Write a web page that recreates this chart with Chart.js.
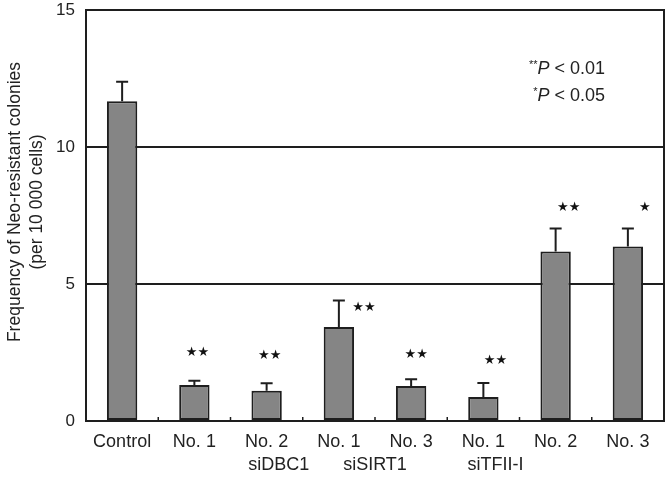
<!DOCTYPE html>
<html><head><meta charset="utf-8">
<script src="https://cdn.jsdelivr.net/npm/chart.js@4"></script>
<style>html,body{margin:0;padding:0;background:#fff}#wrap{width:668px;height:483px}</style>
</head><body><div id="wrap"><canvas id="c" width="668" height="483"></canvas></div>
<script>
const categories = ["Control","No. 1","No. 2","No. 1","No. 3","No. 1","No. 2","No. 3"];
const groupLabels = ["siDBC1","siSIRT1","siTFII-I"];
const groupCenters = [1.5, 3.5, 6];
const means = [11.67, 1.31, 1.10, 3.43, 1.28, 0.88, 6.19, 6.37];
const errTops = [12.38, 1.47, 1.38, 4.40, 1.52, 1.39, 7.03, 7.03];
const stars = ["", "★★", "★★", "★★", "★★", "★★", "★★", "★"];
const starY = [0, 2.5, 2.4, 4.15, 2.44, 2.19, 7.8, 7.8];
const yTicks = [0, 5, 10, 15];
const yTitle = ["Frequency of Neo-resistant colonies", "(per 10 000 cells)"];
const legendLines = [["**", "P", " < 0.01"], ["*", "P", " < 0.05"]];

const starDx = [0, 3, 3, 25, 5, 12, 13, 17];
const FONT = "'Liberation Sans', Arial, sans-serif";
const INK = "#1e1e1e";

const decor = {
  id: "decor",
  beforeDatasetsDraw(chart) {
    const ctx = chart.ctx, a = chart.chartArea, x = chart.scales.x;
    ctx.save();
    ctx.strokeStyle = INK; ctx.lineWidth = 2;
    ctx.strokeRect(a.left, a.top, a.right - a.left, a.bottom - a.top);
    ctx.lineWidth = 1.5;
    for (let i = 0; i < categories.length - 1; i++) {
      const px = (x.getPixelForValue(i) + x.getPixelForValue(i + 1)) / 2;
      ctx.beginPath(); ctx.moveTo(px, a.bottom); ctx.lineTo(px, a.bottom - 4); ctx.stroke();
    }
    ctx.restore();
  },
  afterDatasetsDraw(chart) {
    const ctx = chart.ctx, x = chart.scales.x, y = chart.scales.y;
    ctx.save();
    ctx.strokeStyle = INK; ctx.lineWidth = 2;
    means.forEach((m, i) => {
      const px = x.getPixelForValue(i);
      const y0 = y.getPixelForValue(m), y1 = y.getPixelForValue(errTops[i]);
      ctx.beginPath(); ctx.moveTo(px, y0); ctx.lineTo(px, y1);
      ctx.moveTo(px - 6, y1); ctx.lineTo(px + 6, y1); ctx.stroke();
    });
    ctx.fillStyle = "#111";
    ctx.font = "13px 'DejaVu Sans'";
    ctx.textAlign = "center"; ctx.textBaseline = "middle";
    stars.forEach((s, i) => {
      if (!s) return;
      ctx.fillText(s, x.getPixelForValue(i) + starDx[i], y.getPixelForValue(starY[i]));
    });
    // y title
    ctx.fillStyle = "#222";
    ctx.font = "17.5px " + FONT;
    ctx.translate(0, 202); ctx.rotate(-Math.PI / 2);
    ctx.fillText(yTitle[0], 0, 15);
    ctx.fillText(yTitle[1], 0, 37);
    ctx.restore();
    // legend
    ctx.save();
    ctx.fillStyle = "#222"; ctx.textBaseline = "middle";
    const right = 605, ys = [69, 96];
    legendLines.forEach((parts, k) => {
      ctx.font = "18px " + FONT;
      const wRest = ctx.measureText(parts[2]).width;
      ctx.font = "italic 18px " + FONT;
      const wP = ctx.measureText(parts[1]).width;
      ctx.font = "11px " + FONT;
      const wS = ctx.measureText(parts[0]).width;
      let cx = right - wRest - wP - wS;
      ctx.textAlign = "left";
      ctx.font = "11px " + FONT;
      ctx.fillText(parts[0], cx, ys[k] - 4); cx += wS;
      ctx.font = "italic 18px " + FONT;
      ctx.fillText(parts[1], cx, ys[k]); cx += wP;
      ctx.font = "18px " + FONT;
      ctx.fillText(parts[2], cx, ys[k]);
    });
    ctx.restore();
  }
};

new Chart(document.getElementById("c"), {
  type: "bar",
  data: {
    labels: categories,
    datasets: [{
      data: means,
      backgroundColor: "#858585",
      borderColor: INK,
      borderWidth: 2,
      borderSkipped: false,
      categoryPercentage: 1,
      barPercentage: 0.42
    }]
  },
  options: {
    responsive: false,
    animation: false,
    devicePixelRatio: 1,
    layout: { padding: { top: 10, right: 4, left: 0, bottom: 0 } },
    plugins: { legend: { display: false }, tooltip: { enabled: false } },
    scales: {
      x: {
        type: "category",
        offset: true,
        grid: { display: false, drawTicks: false },
        border: { display: false },
        ticks: { color: "#222", font: { family: FONT, size: 18 }, padding: 10, maxRotation: 0, autoSkip: false },
        afterFit(s) { s.height = 33; s.paddingLeft = 0; s.paddingRight = 0; }
      },
      x2: {
        type: "linear",
        position: "bottom",
        min: -0.5, max: 7.5,
        grid: { display: false, drawTicks: false },
        border: { display: false },
        afterBuildTicks(s) { s.ticks = groupCenters.map(v => ({ value: v })); },
        ticks: {
          color: "#222", font: { family: FONT, size: 18 }, padding: 0, autoSkip: false, maxRotation: 0,
          callback(v) { const i = groupCenters.indexOf(v); return i >= 0 ? groupLabels[i] : ""; }
        },
        afterFit(s) { s.height = 29; s.paddingLeft = 0; s.paddingRight = 0; }
      },
      y: {
        min: 0, max: 15,
        afterBuildTicks(s) { s.ticks = yTicks.map(v => ({ value: v })); },
        grid: { color: INK, lineWidth: 2, drawTicks: false },
        border: { display: false },
        ticks: { color: "#222", font: { family: FONT, size: 17 }, padding: 11 },
        afterFit(s) { s.width = 86; s.paddingTop = 0; s.paddingBottom = 0; }
      }
    }
  },
  plugins: [decor]
});
</script>
</body></html>
